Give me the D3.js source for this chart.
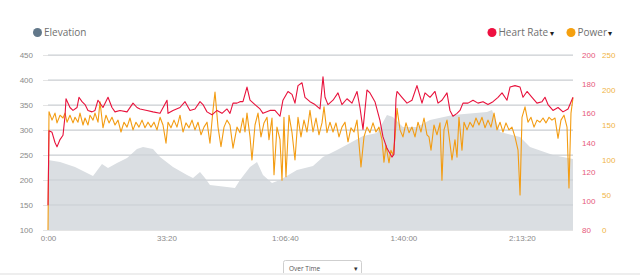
<!DOCTYPE html>
<html>
<head>
<meta charset="utf-8">
<script src="https://cdn.jsdelivr.net/npm/d3@7"></script>
<style>
  html, body { margin: 0; padding: 0; background: #fff; }
  svg { display: block; font-family: "Open Sans", sans-serif; }
</style>
</head>
<body>
<svg id="chart" width="640" height="275"></svg>
<script>
// --- Données (temps en secondes)
const elevTime = [0, 203, 456, 760, 911, 1013, 1165, 1334, 1502, 1604, 1772, 1891, 2110, 2346, 2448, 2566, 2650, 2734, 3021, 3156, 3241, 3410, 3528, 3629, 3781, 3916, 4203, 4473, 4642, 4878, 5098, 5317, 5553, 5722, 5823, 5992, 6228, 6448, 6836, 7410, 7495, 7630, 7968, 8136, 8524, 8862];
const elevValue = [240, 236, 226, 208, 232, 224, 234, 244, 262, 266, 262, 246, 226, 210, 204, 216, 204, 190, 186, 184, 200, 226, 236, 210, 194, 200, 220, 228, 246, 260, 274, 288, 294, 330, 326, 306, 306, 320, 330, 336, 340, 296, 286, 266, 250, 242];

const hrTime = [0, 17, 68, 118, 152, 203, 253, 287, 304, 371, 422, 490, 523, 574, 625, 675, 743, 793, 844, 928, 1013, 1080, 1131, 1215, 1334, 1435, 1502, 1553, 1671, 1772, 1891, 2009, 2026, 2110, 2228, 2313, 2397, 2481, 2566, 2616, 2684, 2768, 2853, 2937, 3021, 3072, 3123, 3190, 3241, 3291, 3359, 3410, 3494, 3578, 3629, 3747, 3831, 3916, 3966, 4051, 4119, 4169, 4220, 4287, 4338, 4422, 4507, 4591, 4642, 4676, 4726, 4811, 4895, 4962, 5047, 5131, 5216, 5266, 5317, 5384, 5435, 5519, 5604, 5654, 5722, 5806, 5840, 5874, 5891, 5975, 6060, 6144, 6228, 6313, 6364, 6448, 6532, 6583, 6650, 6735, 6785, 6836, 6904, 6954, 7005, 7090, 7174, 7258, 7343, 7427, 7512, 7596, 7664, 7748, 7799, 7883, 7968, 8018, 8086, 8170, 8254, 8339, 8389, 8440, 8524, 8609, 8693, 8778, 8862];
const hrValue = [97, 148, 147, 140, 137, 142, 145, 158, 170, 164, 162, 164, 171, 168, 166, 162, 161, 162, 169, 164, 171, 164, 161, 162, 161, 167, 164, 163, 162, 161, 160, 169, 160, 162, 164, 168, 162, 163, 168, 166, 161, 159, 162, 160, 163, 160, 167, 167, 168, 168, 178, 169, 166, 163, 160, 162, 162, 158, 169, 175, 173, 167, 179, 181, 171, 168, 166, 163, 185, 171, 166, 169, 174, 166, 170, 167, 175, 164, 149, 176, 174, 168, 155, 144, 136, 130, 132, 170, 175, 171, 167, 169, 179, 167, 174, 171, 175, 167, 169, 174, 162, 158, 160, 162, 167, 167, 169, 167, 168, 166, 168, 171, 174, 169, 178, 179, 178, 171, 175, 171, 167, 168, 171, 166, 162, 164, 161, 163, 171];

const powerTime = [0, 17, 68, 118, 152, 203, 253, 287, 321, 371, 422, 456, 506, 540, 591, 625, 675, 709, 760, 793, 844, 878, 928, 979, 1030, 1080, 1131, 1182, 1232, 1283, 1334, 1384, 1435, 1485, 1536, 1587, 1637, 1688, 1739, 1789, 1840, 1891, 1941, 1992, 2026, 2076, 2127, 2177, 2228, 2279, 2329, 2380, 2431, 2481, 2532, 2583, 2633, 2684, 2734, 2785, 2819, 2870, 2920, 2971, 3021, 3072, 3123, 3190, 3241, 3291, 3325, 3359, 3410, 3443, 3494, 3545, 3595, 3646, 3697, 3730, 3781, 3815, 3865, 3916, 3950, 3983, 4017, 4068, 4119, 4169, 4220, 4270, 4321, 4372, 4422, 4473, 4524, 4574, 4625, 4659, 4709, 4760, 4811, 4861, 4912, 4962, 5013, 5064, 5114, 5165, 5216, 5249, 5283, 5334, 5384, 5435, 5486, 5536, 5587, 5638, 5671, 5705, 5756, 5789, 5823, 5857, 5891, 5942, 5992, 6043, 6094, 6144, 6195, 6246, 6296, 6347, 6397, 6431, 6465, 6515, 6566, 6617, 6650, 6684, 6735, 6785, 6819, 6870, 6904, 6937, 6988, 7022, 7073, 7123, 7174, 7224, 7275, 7326, 7377, 7427, 7478, 7529, 7579, 7630, 7680, 7731, 7781, 7832, 7883, 7934, 7968, 8001, 8052, 8102, 8153, 8204, 8254, 8305, 8356, 8406, 8457, 8507, 8558, 8609, 8659, 8710, 8761, 8794, 8828, 8862];
const powerValue = [0, 169, 157, 167, 153, 164, 160, 167, 154, 164, 153, 161, 154, 167, 150, 160, 150, 164, 157, 167, 154, 183, 146, 164, 153, 161, 150, 157, 140, 154, 147, 160, 143, 154, 147, 157, 146, 154, 147, 154, 143, 161, 150, 124, 154, 146, 157, 147, 164, 140, 153, 146, 157, 143, 154, 136, 147, 154, 124, 171, 197, 147, 119, 147, 157, 150, 117, 147, 139, 160, 140, 167, 133, 100, 150, 167, 133, 153, 161, 129, 160, 79, 147, 129, 71, 161, 76, 164, 139, 100, 161, 133, 157, 140, 171, 140, 160, 136, 153, 176, 139, 154, 140, 153, 133, 147, 154, 126, 146, 140, 157, 124, 90, 133, 147, 139, 153, 140, 147, 129, 97, 121, 96, 114, 107, 131, 174, 143, 133, 153, 139, 147, 133, 154, 140, 160, 136, 133, 114, 150, 136, 153, 71, 143, 157, 124, 100, 129, 104, 161, 114, 154, 143, 154, 147, 160, 150, 161, 146, 157, 147, 167, 143, 154, 140, 153, 143, 147, 133, 114, 50, 161, 176, 154, 161, 147, 157, 154, 160, 153, 161, 157, 160, 131, 157, 164, 147, 60, 167, 189];

const timeTicks = [0, 2000, 4000, 6000, 8000];
const elevTicks = [100, 150, 200, 250, 300, 350, 400, 450];
const hrTicks = [80, 100, 120, 140, 160, 180, 200];
const powerTicks = [0, 50, 100, 150, 200, 250];

const elevation = elevTime.map((t, i) => ({ t, v: elevValue[i] }));
const heartRate = hrTime.map((t, i) => ({ t, v: hrValue[i] }));
const power = powerTime.map((t, i) => ({ t, v: powerValue[i] }));

// --- Couleurs
const colElev = "#dadee2";
const colHR = "#e8123c";
const colPower = "#f39c12";

const svg = d3.select("#chart");

// --- Échelles
const x = d3.scaleLinear().domain([0, 8862]).range([48, 573]);
const yElev = d3.scaleLinear().domain([100, 450]).range([230, 55]);
const yHR = d3.scaleLinear().domain([80, 200]).range([230, 55]);
const yPower = d3.scaleLinear().domain([0, 250]).range([230, 55]);

const fmtTime = (s) => {
    const h = Math.floor(s / 3600);
    const m = Math.floor((s % 3600) / 60);
    const sec = s % 60;
    const pad = (n) => String(n).padStart(2, "0");
    return h > 0 ? `${h}:${pad(m)}:${pad(sec)}` : `${m}:${pad(sec)}`;
};

// --- Grille + axe gauche
const leftAxis = svg.append("g")
    .attr("transform", "translate(43,0)")
    .call(d3.axisLeft(yElev).tickValues(elevTicks).tickSize(-(573 - 43)).tickPadding(10));
leftAxis.select(".domain").remove();
leftAxis.selectAll("line").attr("stroke", "#e4e4e4");
leftAxis.selectAll("text").attr("fill", "#8a8a8a").style("font-size", "8px");

// --- Aire d'élévation
svg.append("path")
    .datum(elevation)
    .attr("fill", colElev)
    .attr("d", d3.area().x(d => x(d.t)).y0(yElev(100)).y1(d => yElev(d.v)));

// regrille par-dessus l'aire (lignes visibles dans l'aire)
svg.append("g")
    .selectAll("line")
    .data(elevTicks.slice(1))
    .join("line")
    .attr("x1", 48).attr("x2", 573)
    .attr("y1", d => yElev(d)).attr("y2", d => yElev(d))
    .attr("stroke", "#c9ced3")
    .attr("stroke-width", 1);

// --- Courbes
svg.append("path")
    .datum(power)
    .attr("fill", "none")
    .attr("stroke", colPower)
    .attr("stroke-width", 1.1)
    .attr("stroke-linejoin", "round")
    .attr("d", d3.line().x(d => x(d.t)).y(d => yPower(d.v)));

svg.append("path")
    .datum(heartRate)
    .attr("fill", "none")
    .attr("stroke", colHR)
    .attr("stroke-width", 1.1)
    .attr("stroke-linejoin", "round")
    .attr("d", d3.line().x(d => x(d.t)).y(d => yHR(d.v)));

// --- Axe x
const xAxis = svg.append("g")
    .attr("transform", "translate(0,232)")
    .call(d3.axisBottom(x).tickValues(timeTicks).tickFormat(fmtTime).tickSize(0).tickPadding(3));
xAxis.select(".domain").remove();
xAxis.selectAll("text").attr("fill", "#8a8a8a").style("font-size", "8px");

// --- Axes droits
const hrAxis = svg.append("g")
    .attr("transform", "translate(582,0)")
    .call(d3.axisRight(yHR).tickValues(hrTicks).tickSize(0).tickPadding(0));
hrAxis.select(".domain").remove();
hrAxis.selectAll("text").attr("fill", "#e6587a").style("font-size", "8px");

const pwAxis = svg.append("g")
    .attr("transform", "translate(602,0)")
    .call(d3.axisRight(yPower).tickValues(powerTicks).tickSize(0).tickPadding(0));
pwAxis.select(".domain").remove();
pwAxis.selectAll("text").attr("fill", "#f0b445").style("font-size", "8px");

// --- Légende
const legend = [
    { label: "Elevation", color: "#62788a", cx: 37.5, arrow: false },
    { label: "Heart Rate", color: "#ee1040", cx: 492, arrow: true },
    { label: "Power", color: "#f5a00f", cx: 571, arrow: true },
];
legend.forEach(l => {
    svg.append("circle").attr("cx", l.cx).attr("cy", 32.5).attr("r", 4.5).attr("fill", l.color);
    const t = svg.append("text")
        .attr("x", l.cx + 6.5).attr("y", 36)
        .attr("fill", "#6f6f6f")
        .style("font-size", "10px")
        .text(l.label);
    if (l.arrow) {
        t.append("tspan").attr("dx", 1.5).attr("fill", "#222").style("font-size", "8px").text("▾");
    }
});

// --- Menu déroulant "Over Time"
svg.append("rect")
    .attr("x", 283.5).attr("y", 260.5).attr("width", 78).attr("height", 20)
    .attr("rx", 2)
    .attr("fill", "#fff").attr("stroke", "#cfcfcf");
svg.append("text").attr("x", 289).attr("y", 270.5)
    .attr("fill", "#555").style("font-size", "6.5px").text("Over Time");
svg.append("text").attr("x", 354).attr("y", 270.5)
    .attr("fill", "#333").style("font-size", "6.5px").text("▾");

svg.append("rect")
    .attr("x", 0).attr("y", 273).attr("width", 640).attr("height", 2)
    .attr("fill", "#eeeeee");
</script>
</body>
</html>
